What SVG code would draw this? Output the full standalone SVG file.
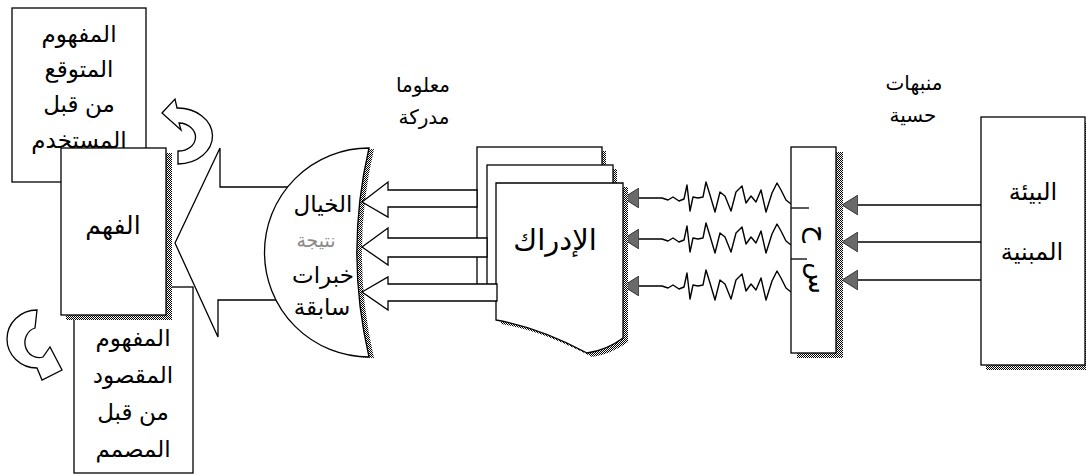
<svg xmlns="http://www.w3.org/2000/svg" width="1086" height="475" viewBox="0 0 1086 475">
<style>
.box{fill:#fff;stroke:#000;stroke-width:1.3}
.sh{fill:url(#hatch);stroke:none}
.t{font-family:"Liberation Sans","DejaVu Sans",sans-serif;fill:#000;text-anchor:middle}
.faint{fill:#8a8a8a}
.blk{fill:#fff;stroke:#000;stroke-width:1.3;stroke-linejoin:miter}
.sq{fill:none;stroke:#000;stroke-width:1.4;stroke-linejoin:round}
.ln{fill:none;stroke:#000;stroke-width:1.3}
</style>
<defs>
<pattern id="hatch" width="2" height="2" patternUnits="userSpaceOnUse">
<rect width="2" height="2" fill="#fff"/>
<rect width="1" height="1" fill="#000"/>
<rect x="1" y="1" width="1" height="1" fill="#000"/>
</pattern>
<marker id="tri" viewBox="0 0 16 20" refX="16" refY="10" markerWidth="16" markerHeight="20" markerUnits="userSpaceOnUse" orient="auto">
<path d="M0,0 L16,10 L0,20 Z" fill="#6a6a6a" stroke="#333" stroke-width="1"/>
</marker>
</defs>

<g id="connectors">
<polygon class="blk" points="175,243 220,148 220,187 300,187 300,300 218,300 218,337"/>
<path class="blk" d="M162,113 L175,99 L177,108 A35,28 0 0 1 178,164 L178,151 A17,14 0 0 0 179,123 L181,130 Z"/>
<path class="blk" d="M37,310 L35,328 A14,15 0 0 0 43,357 L50,347 L62,370 L42,380 L37,368 A30,29 0 0 1 37,310 Z"/>
<line class="ln" x1="981" y1="205" x2="842" y2="205" marker-end="url(#tri)"/>
<line class="ln" x1="981" y1="242" x2="842" y2="242" marker-end="url(#tri)"/>
<line class="ln" x1="981" y1="280" x2="842" y2="280" marker-end="url(#tri)"/>
<path class="sq" transform="translate(0,198)" d="M791,6 L786,2 L781,-8 L777,-15 L772,-5 L766,14 L761,-8 L756,4 L751,-2 L746,5 L742,-12 L736,-6 L731,13 L725,-2 L720,-6 L715,14 L710,-3 L706,-16 L703,-1 L698,0 L693,-1 L690,13 L687,-13 L684,1 L679,3 L673,-1 L668,2 L662,0 L623,0" marker-end="url(#tri)"/>
<path class="sq" transform="translate(0,239)" d="M791,6 L786,2 L781,-8 L777,-15 L772,-5 L766,14 L761,-8 L756,4 L751,-2 L746,5 L742,-12 L736,-6 L731,13 L725,-2 L720,-6 L715,14 L710,-3 L706,-16 L703,-1 L698,0 L693,-1 L690,13 L687,-13 L684,1 L679,3 L673,-1 L668,2 L662,0 L623,0" marker-end="url(#tri)"/>
<path class="sq" transform="translate(0,286)" d="M791,6 L786,2 L781,-8 L777,-15 L772,-5 L766,14 L761,-8 L756,4 L751,-2 L746,5 L742,-12 L736,-6 L731,13 L725,-2 L720,-6 L715,14 L710,-3 L706,-16 L703,-1 L698,0 L693,-1 L690,13 L687,-13 L684,1 L679,3 L673,-1 L668,2 L662,0 L623,0" marker-end="url(#tri)"/>
</g>

<g id="expected">
<rect class="box" x="12" y="8" width="134" height="174"/>
<text class="t" font-size="23" x="79" y="42">المفهوم</text>
<text class="t" font-size="23" x="79" y="77">المتوقع</text>
<text class="t" font-size="23" x="79" y="112">من قبل</text>
<text class="t" font-size="23" x="79" y="148">المستخدم</text>
</g>

<g id="intended">
<rect class="box" x="74" y="287" width="119" height="186"/>
<text class="t" font-size="23" x="133" y="346">المفهوم</text>
<text class="t" font-size="23" x="133" y="383">المقصود</text>
<text class="t" font-size="23" x="133" y="420">من قبل</text>
<text class="t" font-size="23" x="133" y="457">المصمم</text>
</g>

<g id="understanding">
<rect class="sh" x="66" y="153" width="106" height="167"/>
<rect class="box" x="61" y="148" width="105" height="167"/>
<text class="t" font-size="25" x="113" y="234">الفهم</text>
</g>

<g id="imagination">
<path class="sh" transform="translate(5,1)" d="M369,148 A104.5,104.5 0 0 0 369,357 A461,461 0 0 1 369,148 Z"/>
<path class="box" d="M369,148 A104.5,104.5 0 0 0 369,357 A461,461 0 0 1 369,148 Z"/>
<text class="t" font-size="23" x="323" y="212">الخيال</text>
<text class="t faint" font-size="19" x="316" y="247">نتيجة</text>
<text class="t" font-size="23" x="323" y="283">خبرات</text>
<text class="t" font-size="23" x="322" y="315">سابقة</text>
</g>

<g id="perception">
<rect class="sh" x="481" y="151" width="125" height="147"/>
<rect class="box" x="477" y="147" width="125" height="151"/>
<rect class="sh" x="491" y="169" width="126" height="129"/>
<rect class="box" x="487" y="165" width="126" height="133"/>
<path class="sh" transform="translate(5,4)" d="M496,183 H623 V338 Q607,350 587,353 C555,336 525,325 496,320 Z"/>
<path class="box" d="M496,183 H623 V338 Q607,350 587,353 C555,336 525,325 496,320 Z"/>
<text class="t" font-size="29" x="555" y="250">الإدراك</text>
</g>

<g id="perceived-arrows">
<polygon class="blk" points="362,202 388,182 388,190 477,190 477,207 388,207 388,217"/>
<polygon class="blk" points="362,247 388,228 388,238 487,238 487,257 388,257 388,265"/>
<polygon class="blk" points="362,292 388,277 388,284 497,284 497,301 388,301 388,310"/>
</g>

<g id="perceived-label">
<text class="t" font-size="20" x="423" y="92">معلوما</text>
<text class="t" font-size="20" x="424" y="124">مدركة</text>
</g>

<g id="senses">
<rect class="sh" x="797" y="152" width="46" height="206"/>
<rect class="box" x="791" y="147" width="45" height="206"/>
<line class="ln" x1="791" y1="208" x2="809" y2="208"/>
<line class="ln" x1="791" y1="259" x2="807" y2="259"/>
<text class="t" font-size="28" transform="translate(809,234) rotate(90)">ح</text>
<text class="t" font-size="26" transform="translate(809,278) rotate(90)">س</text>
</g>

<g id="stimuli-label">
<text class="t" font-size="20" x="914" y="90">منبهات</text>
<text class="t" font-size="20" x="913" y="122">حسية</text>
</g>

<g id="environment">
<rect class="sh" x="986" y="122" width="100" height="248"/>
<rect class="box" x="981" y="117" width="104" height="248"/>
<text class="t" font-size="24" x="1033" y="200">البيئة</text>
<text class="t" font-size="24" x="1032" y="260">المبنية</text>
</g>
</svg>
